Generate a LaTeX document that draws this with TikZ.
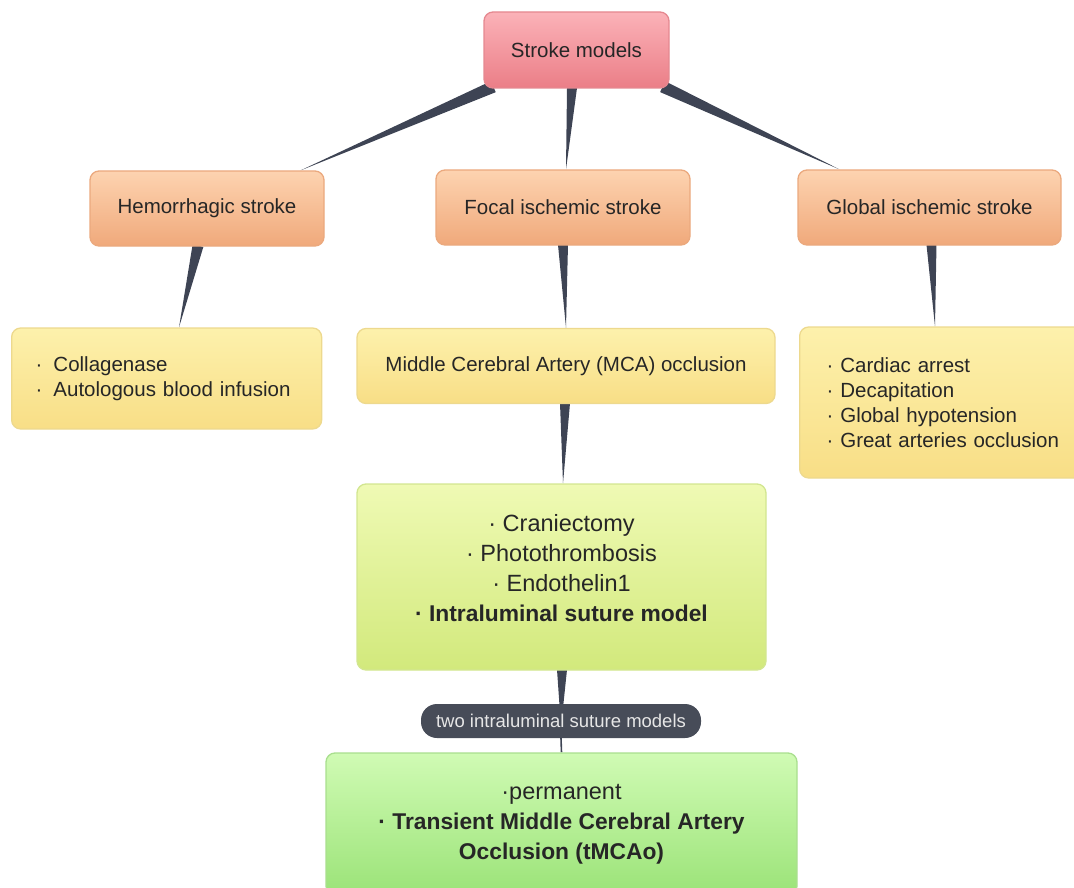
\documentclass[tikz,border=0pt]{standalone}
\usepackage{fontspec}
\setmainfont{Liberation Sans}
\usetikzlibrary{calc}
\pgfdeclarelayer{bg}
\pgfsetlayers{bg,main}
\definecolor{wedgecol}{HTML}{3E4454}
\definecolor{txt}{HTML}{262626}
\definecolor{rootT}{HTML}{FBB2B8}\definecolor{rootB}{HTML}{EB7E87}\definecolor{rootD}{HTML}{E58890}
\definecolor{oraT}{HTML}{FDD3B0}\definecolor{oraB}{HTML}{F0A97B}\definecolor{oraD}{HTML}{EBA97E}
\definecolor{yelT}{HTML}{FDF1AC}\definecolor{yelB}{HTML}{F8DE86}\definecolor{yelD}{HTML}{EDD98E}
\definecolor{lgT}{HTML}{EFFAB4}\definecolor{lgB}{HTML}{D2E97C}\definecolor{lgD}{HTML}{D2E690}
\definecolor{gT}{HTML}{D0FBB4}\definecolor{gB}{HTML}{9BE378}\definecolor{gD}{HTML}{A9DF8E}
\definecolor{labF}{HTML}{474C58}\definecolor{labT}{HTML}{E6E6E6}
\newcommand\linkwedge[3]{\fill[wedgecol] ($(#1)!#3!90:(#2)$) -- ($(#1)!#3!-90:(#2)$) -- (#2) -- cycle;}
\newcommand\boldline[1]{{\fontsize{22.8}{30}\selectfont\bfseries #1}}
\begin{document}
\begin{tikzpicture}[x=1pt,y=-1pt,
  box/.style={rounded corners=9pt, line width=1.3pt, inner sep=0pt, text=txt,
    font=\fontsize{20.5}{25}\selectfont, align=center},
  rootbox/.style={box, top color=rootT, bottom color=rootB, draw=rootD},
  orabox/.style={box, top color=oraT, bottom color=oraB, draw=oraD, minimum height=75pt},
  yelbox/.style={box, top color=yelT, bottom color=yelB, draw=yelD},
  lgbox/.style={box, top color=lgT, bottom color=lgB, draw=lgD, font=\fontsize{23.5}{30}\selectfont},
  gbox/.style={box, top color=gT, bottom color=gB, draw=gD, font=\fontsize{23.5}{30}\selectfont},
  pill/.style={rounded corners=16pt, fill=labF, text=labT, inner sep=0pt,
    font=\fontsize{18.5}{22}\selectfont}
]
\useasboundingbox (0,0) rectangle (1074,888);
% nodes
\node[rootbox, minimum width=185pt, minimum height=76pt] (root) at (576.5,50) {Stroke models};
\node[orabox, minimum width=234pt] (hem) at (207,208.5) {Hemorrhagic stroke};
\node[orabox, minimum width=254pt] (foc) at (563,207.5) {Focal ischemic stroke};
\node[orabox, minimum width=263pt] (glo) at (929.5,207.5) {Global ischemic stroke};
\node[yelbox, anchor=west, align=left, text width=262pt, inner xsep=24pt, minimum height=101pt] (col) at (11,378.5)
  {·\hspace{11pt}Collagenase\\·\hspace{11pt}Autologous blood infusion};
\node[yelbox, minimum width=418pt, minimum height=75pt] (mca) at (566,366) {Middle Cerebral Artery (MCA) occlusion};
\node[yelbox, anchor=west, align=left, text width=260pt, inner xsep=27pt, minimum height=151pt] (glist) at (799,402.5)
  {· Cardiac arrest\\· Decapitation\\· Global hypotension\\· Great arteries occlusion};
\node[lgbox, minimum width=409pt, minimum height=186pt] (cran) at (561.5,577)
  {\raisebox{7pt}[\height][\depth]{\begin{tabular}{@{}c@{}}· Craniectomy\\· Photothrombosis\\· Endothelin1\\\boldline{· Intraluminal suture model}\end{tabular}}};
\node[pill, minimum width=280pt, minimum height=34pt] (lab) at (561,721) {two intraluminal suture models};
\node[gbox, minimum width=471pt, minimum height=142pt] (fin) at (561.5,824)
  {·permanent\\\boldline{· Transient Middle Cerebral Artery}\\\boldline{Occlusion (tMCAo)}};
% connectors
\coordinate (s1) at ($(root.south west)+(10,-2)$);
\coordinate (e1) at ($(hem.north east)+(-24,0)$);
\coordinate (s2) at ($(root.south)+(-4.5,-1)$);
\coordinate (e2) at ($(foc.north)+(3,0)$);
\coordinate (s3) at ($(root.south east)+(-7,-2)$);
\coordinate (e3) at ($(glo.north west)+(42,0)$);
\coordinate (s4) at ($(hem.south)+(-9,-1)$);
\coordinate (e4) at ($(col.north west)+(168,0)$);
\coordinate (s5) at ($(foc.south)+(0,-1)$);
\coordinate (e5) at ($(mca.north)+(0,0)$);
\coordinate (s6) at ($(glo.south)+(2,-1)$);
\coordinate (e6) at ($(glist.north west)+(136,0)$);
\coordinate (s7) at ($(mca.south)+(-1,-1)$);
\coordinate (e7) at ($(cran.north)+(1.5,0)$);
\coordinate (s8) at ($(cran.south)+(0.5,-1)$);
\coordinate (e8) at ($(lab.center)+(0,6)$);
\begin{pgfonlayer}{bg}
\linkwedge{s1}{e1}{6pt}
\linkwedge{s2}{e2}{5pt}
\linkwedge{s3}{e3}{6pt}
\linkwedge{s4}{e4}{5.5pt}
\linkwedge{s5}{e5}{5pt}
\linkwedge{s6}{e6}{5pt}
\linkwedge{s7}{e7}{5pt}
\linkwedge{s8}{e8}{5pt}
\draw[wedgecol, line width=1.6pt] (lab.south) -- (fin.north);
\end{pgfonlayer}
\end{tikzpicture}
\end{document}
